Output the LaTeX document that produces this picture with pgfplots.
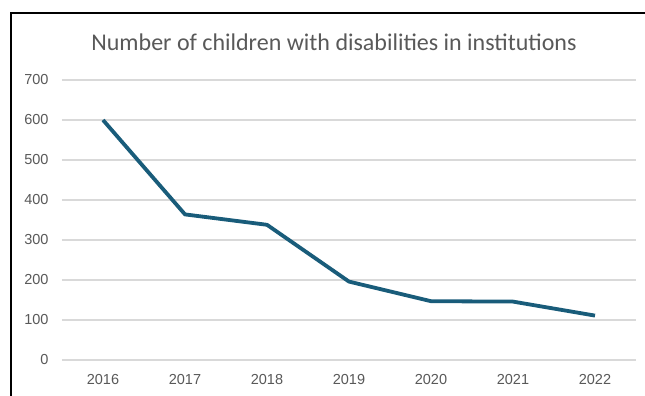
\documentclass[border=0pt]{standalone}
\usepackage{pgfplots}
\pgfplotsset{compat=1.18}
\usepackage{fontspec}
\setmainfont{Liberation Sans}
\newfontfamily\titlefont{Carlito}
\definecolor{linec}{RGB}{25,92,122}
\definecolor{gridc}{RGB}{217,217,217}
\definecolor{textc}{RGB}{89,89,89}
\begin{document}
\begin{tikzpicture}[x=1pt,y=1pt]
\useasboundingbox (0,0) rectangle (645,396);
\fill[white] (0,0) rectangle (645,396);
\draw[line width=2.5pt, line cap=rect] (11,0) -- (11,383) -- (645,383);
\begin{axis}[at={(62pt,36pt)}, anchor=south west, width=574pt, height=280pt, scale only axis,
 xmin=-0.5, xmax=6.5, ymin=0, ymax=700, ytick={0,100,...,700}, xtick={0,...,6},
 xticklabels={2016,2017,2018,2019,2020,2021,2022},
 axis line style={draw=none}, major tick length=0, ymajorgrids,
 grid style={gridc, line width=1.2pt},
 tick label style={font=\fontsize{14.5}{17}\selectfont, text=textc},
 yticklabel style={xshift=-10pt}, xticklabel style={yshift=-11pt},
 /pgf/number format/assume math mode=true, clip=false]
\addplot[linec, line width=3.8pt, line join=round] coordinates {(0,600)(1,364)(2,338)(3,196)(4,147)(5,146)(6,111)};
\end{axis}
\node[anchor=base, font=\titlefont\fontsize{24}{28}\selectfont, text=textc, inner sep=0pt] at (334,345) {Number of children with disabilities in institutions};
\end{tikzpicture}
\end{document}
